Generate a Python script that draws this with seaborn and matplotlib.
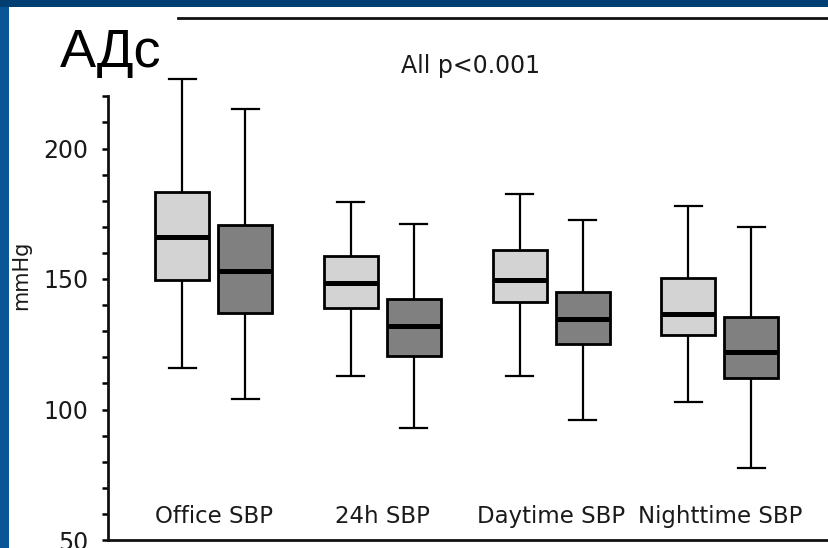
import numpy as np
import pandas as pd
import matplotlib.pyplot as plt
import seaborn as sns
from matplotlib.patches import Rectangle

# Measures on the x axis and the two compared groups
categories = ['Office SBP', '24h SBP', 'Daytime SBP', 'Nighttime SBP']
groups = ['light', 'dark']

# Box summaries (mmHg): whisker low, Q1, median, Q3, whisker high
light_low = [116, 113, 113, 103]
light_q1 = [149.5, 139, 141, 128.5]
light_med = [166, 148.5, 149.5, 136.5]
light_q3 = [183.5, 159, 161, 150.5]
light_high = [226.5, 179.5, 182.5, 178]

dark_low = [104, 93, 96, 77.5]
dark_q1 = [137, 120.5, 125, 112]
dark_med = [153, 132, 134.5, 122]
dark_q3 = [170.5, 142.5, 145, 135.5]
dark_high = [215, 171, 172.5, 170]

y_major = [50, 100, 150, 200]
y_minor = [60, 70, 80, 90, 110, 120, 130, 140, 160, 170, 180, 190, 210, 220]

# Build long-form data: five points per box reproduce the summary exactly
rows = []
for i, cat in enumerate(categories):
    for grp, summ in zip(groups, [(light_low, light_q1, light_med, light_q3, light_high),
                                  (dark_low, dark_q1, dark_med, dark_q3, dark_high)]):
        for s in summ:
            rows.append({'measure': cat, 'group': grp, 'mmHg': s[i]})
df = pd.DataFrame(rows)

fig = plt.figure(figsize=(8.29, 5.48), dpi=100)
fig.patch.set_facecolor('#0a5596')
fig.patches.append(Rectangle((0, 1 - 7 / 548), 1, 7 / 548, transform=fig.transFigure,
                             facecolor='#013f73', edgecolor='none', zorder=-2))
fig.patches.append(Rectangle((9 / 829, 0), 1, 1 - 7 / 548, transform=fig.transFigure,
                             facecolor='white', edgecolor='none', zorder=-1))

ax = fig.add_axes([108 / 829, 8 / 548, 727 / 829, 522 / 548])
ax.set_facecolor('white')

sns.boxplot(data=df, x='measure', y='mmHg', hue='group', order=categories,
            hue_order=groups, palette=['#d3d3d3', '#808080'], width=0.747, gap=0.143,
            whis=(0, 100), linecolor='black', linewidth=1.6,
            boxprops=dict(linewidth=2), medianprops=dict(linewidth=3.6, color='black'),
            legend=False, ax=ax)

ax.set_xlim(-0.627, 3.683)
ax.set_ylim(50, 250)

font = 'DejaVu Sans'
ax.set_yticks(y_major)
ax.set_yticks(y_minor, minor=True)
ax.set_yticklabels([str(v) for v in y_major], fontsize=17, family=font, color='#1a1a1a')
ax.tick_params(axis='y', which='both', length=4, width=1.8, direction='out', pad=10)
ax.tick_params(axis='x', length=0, pad=-25)
ax.set_xticks(range(len(categories)))
ax.set_xticklabels(categories, fontsize=16.5, family=font, color='#1a1a1a')
ax.set_xlabel('')
ax.set_ylabel('mmHg', fontsize=15, family=font, color='#1a1a1a')
ax.yaxis.set_label_coords(-0.106, 0.508)

for side in ['left', 'bottom', 'top']:
    ax.spines[side].set_linewidth(2)
    ax.spines[side].set_color('#111111')
ax.spines['right'].set_visible(False)
ax.spines['left'].set_bounds(50, 220)
ax.spines['top'].set_bounds(-0.21, 3.683)

ax.text(0.498, 0.908, 'All p<0.001', transform=ax.transAxes, ha='center', va='center',
        fontsize=17, family=font, color='#1a1a1a')

fig.text(60 / 829, (548 - 67) / 548, 'АДс', fontsize=39, family='Liberation Sans',
         color='black', ha='left', va='baseline')

fig.savefig('out.png', dpi=100, facecolor=fig.get_facecolor())
